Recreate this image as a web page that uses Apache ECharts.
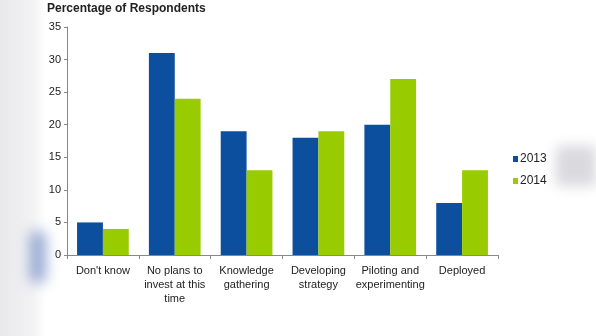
<!DOCTYPE html>
<html><head><meta charset="utf-8">
<script src="https://cdn.jsdelivr.net/npm/echarts@6/dist/echarts.min.js"></script>
<style>html,body{margin:0;padding:0;background:#fff}#c{width:596px;height:336px}</style>
</head><body><div id="c"></div>
<script>
const categories = ["Don't know", "No plans to\ninvest at this\ntime", "Knowledge\ngathering", "Developing\nstrategy", "Piloting and\nexperimenting", "Deployed"];
const values2013 = [5, 31, 19, 18, 20, 8];
const values2014 = [4, 24, 13, 19, 27, 13];
const yTicks = [0, 5, 10, 15, 20, 25, 30, 35];

const chart = echarts.init(document.getElementById('c'), null, {renderer: 'canvas'});
const font = 'Liberation Sans, Arial, sans-serif';
function blob(x, y, w, h, color, blur) {
  return {type: 'rect', z: -9, shape: {x: x - 2000, y: y, width: w, height: h},
    style: {fill: '#000', shadowBlur: blur, shadowColor: color, shadowOffsetX: 2000, shadowOffsetY: 0}};
}
chart.setOption({
  animation: false,
  backgroundColor: '#fff',
  graphic: [
    {type: 'rect', z: -10, shape: {x: 0, y: 0, width: 46, height: 336},
     style: {fill: new echarts.graphic.LinearGradient(0, 0, 1, 0, [{offset: 0, color: '#e9e9ec'}, {offset: 0.7, color: '#f2f2f4'}, {offset: 1, color: '#ffffff'}])}},
    blob(30, 232, 16, 50, 'rgba(70,100,175,0.55)', 14),
    blob(556, 146, 40, 40, 'rgba(215,215,220,0.95)', 12),
    {type: 'text', left: 47, top: 3,
     style: {text: 'Percentage of Respondents', font: 'bold 12px ' + font, fill: '#222'}}
  ],
  legend: {
    orient: 'vertical', left: 508, top: 148,
    itemWidth: 5, itemHeight: 6, itemGap: 10, icon: 'rect',
    textStyle: {fontSize: 12, fontFamily: font, color: '#222', padding: [0, 0, 0, -3]},
    data: ['2013', '2014']
  },
  grid: {left: 67, right: 98, top: 27, bottom: 81},
  xAxis: {
    type: 'category', data: categories,
    axisLine: {lineStyle: {color: '#888'}},
    axisTick: {show: true, alignWithLabel: false, length: 4, lineStyle: {color: '#888'}},
    axisLabel: {fontSize: 11, fontFamily: font, color: '#222', lineHeight: 14, margin: 9, interval: 0}
  },
  yAxis: {
    type: 'value', min: 0, max: 35, interval: 5,
    axisLine: {show: true, lineStyle: {color: '#888'}},
    axisTick: {show: true, length: 3, lineStyle: {color: '#888'}},
    splitLine: {show: false},
    axisLabel: {fontSize: 11, fontFamily: font, color: '#222', margin: 6,
      formatter: v => yTicks.includes(v) ? String(v) : ''}
  },
  series: [
    {name: '2013', type: 'bar', data: values2013, barGap: '0%', barCategoryGap: '28%',
     itemStyle: {color: '#0b4f9e'}},
    {name: '2014', type: 'bar', data: values2014, barGap: '0%', barCategoryGap: '28%',
     itemStyle: {color: '#99cc00'}}
  ]
});
</script></body></html>
